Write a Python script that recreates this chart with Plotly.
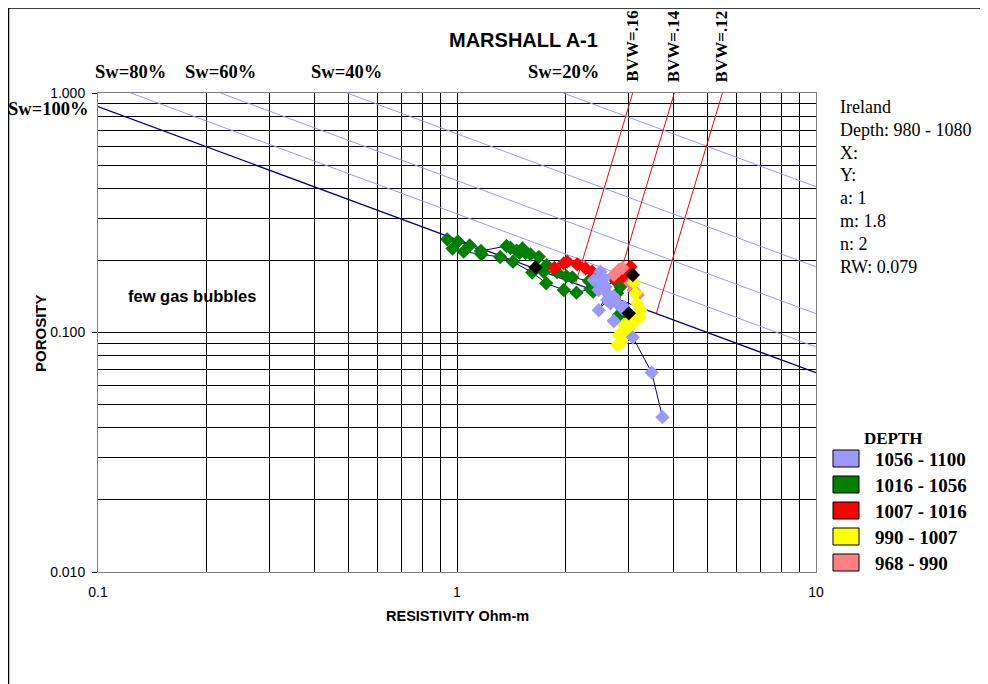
import math
import plotly.graph_objects as go

# Archie parameters shown on the chart
A_COEF = 1
M_EXP = 1.8
N_EXP = 2
RW = 0.079

SW_VALUES = [1.0, 0.8, 0.6, 0.4, 0.2]
SW_LABELS = ["Sw=100%", "Sw=80%", "Sw=60%", "Sw=40%", "Sw=20%"]
BVW_VALUES = [0.16, 0.14, 0.12]
BVW_LABELS = ["BVW=.16", "BVW=.14", "BVW=.12"]

INFO_LINES = ["Ireland", "Depth: 980 - 1080", "X:", "Y:", "a: 1", "m: 1.8", "n: 2", "RW: 0.079"]

LEGEND_NAMES = ["1056 - 1100", "1016 - 1056", "1007 - 1016", "990 - 1007", "968 - 990"]
LEGEND_COLORS = ["#9999FF", "#008000", "#FF0000", "#FFFF00", "#FF8080"]

# resistivity (ohm-m) / porosity, per depth interval
green_rt = [2.354, 2.152, 1.984, 1.772, 1.620, 1.432, 1.319, 1.170, 1.044, 0.972, 0.939,
            1.006, 1.085, 1.166, 1.374, 1.409, 1.465, 1.522, 1.493, 1.552, 1.602, 1.690,
            1.778, 1.745, 1.901, 2.016, 2.094, 2.329, 2.395, 2.431, 2.782, 2.794, 2.854,
            2.823, 2.854]
green_phi = [0.152, 0.1466, 0.1505, 0.1605, 0.178, 0.1975, 0.2066, 0.212, 0.2175, 0.224, 0.245,
             0.240, 0.231, 0.219, 0.2297, 0.2253, 0.2196, 0.2243, 0.2147, 0.2147, 0.212, 0.207,
             0.191, 0.179, 0.1786, 0.172, 0.170, 0.164, 0.148, 0.153, 0.163, 0.1458, 0.1553,
             0.1183, 0.1147]

red_rt = [1.868, 1.984, 2.028, 2.162, 2.280, 2.380, 2.510, 2.734, 2.818, 2.947, 2.915, 3.043, 3.010]
red_phi = [0.186, 0.1945, 0.1975, 0.1927, 0.1854, 0.1794, 0.1684, 0.1684, 0.1722, 0.1689, 0.1824, 0.1882, 0.1767]

pink_rt = [2.734, 2.823, 2.891, 3.043, 3.103, 3.189]
pink_phi = [0.1738, 0.1824, 0.186, 0.1605, 0.1505, 0.1434]

yellow_rt = [3.108, 3.142, 3.176, 3.244, 3.223, 3.142, 3.043, 3.108, 2.970, 2.915, 2.823, 2.885, 2.794]
yellow_phi = [0.1614, 0.1458, 0.1324, 0.124, 0.1161, 0.1164, 0.1128, 0.1092, 0.1024, 0.1075, 0.0976, 0.0915, 0.0887]

blue_rt = [2.405, 2.510, 2.564, 2.458, 2.538, 2.479, 2.593, 2.621, 2.483, 2.621, 2.677, 2.734,
           2.794, 2.885, 2.915, 2.734, 3.089, 3.487, 3.736]
blue_phi = [0.1656, 0.1794, 0.1684, 0.1656, 0.1605, 0.1505, 0.1553, 0.1458, 0.124, 0.1367, 0.1324, 0.1411,
            0.1324, 0.1262, 0.1281, 0.1117, 0.0955, 0.0680, 0.0443]

black_rt = [1.655, 3.089, 3.010]
black_phi = [0.1868, 0.1738, 0.1203]

RT_MIN, RT_MAX = 0.1, 10

# the page has an 8px body margin, positions below are page pixels
OFF = 8
W, H = 988, 684
L, T = 90, 85
PW, PH = 718, 479
R, B = W - L - PW, H - T - PH


def px(x):
    return (x - OFF - L) / PW


def py(y):
    return (T + PH - (y - OFF)) / PH


def rt_of(phi, sw):
    return A_COEF * RW / (phi ** M_EXP * sw ** N_EXP)


def phi_of(rt, sw):
    return (A_COEF * RW / (rt * sw ** N_EXP)) ** (1 / M_EXP)


fig = go.Figure()

# saturation lines
for sw in SW_VALUES:
    if sw == 1.0:
        xs = [RT_MIN, RT_MAX]
        ys = [phi_of(RT_MIN, sw), phi_of(RT_MAX, sw)]
        col, wd = "#000080", 1.3
    else:
        xs = [rt_of(1.0, sw), RT_MAX]
        ys = [1.0, phi_of(RT_MAX, sw)]
        col, wd = "#9999FF", 1
    fig.add_trace(go.Scatter(x=xs, y=ys, mode="lines", line=dict(color=col, width=wd),
                             showlegend=False, hoverinfo="skip"))

# bulk volume water lines
for bvw in BVW_VALUES:
    xs = [rt_of(1.0, bvw), rt_of(bvw, 1.0)]
    ys = [1.0, bvw]
    fig.add_trace(go.Scatter(x=xs, y=ys, mode="lines", line=dict(color="#FF0000", width=1),
                             showlegend=False, hoverinfo="skip"))

# well track connecting line
for xs, ys in [(green_rt, green_phi), (blue_rt, blue_phi)]:
    fig.add_trace(go.Scatter(x=xs, y=ys, mode="lines", line=dict(color="#000080", width=1),
                             showlegend=False, hoverinfo="skip"))

groups = [
    (green_rt, green_phi, "#008000"),
    (red_rt, red_phi, "#FF0000"),
    (pink_rt, pink_phi, "#FF8080"),
    (yellow_rt, yellow_phi, "#FFFF00"),
    (blue_rt, blue_phi, "#9999FF"),
    (black_rt, black_phi, "#000000"),
]
for xs, ys, col in groups:
    fig.add_trace(go.Scatter(x=xs, y=ys, mode="markers",
                             marker=dict(symbol="diamond", size=11, color=col, line=dict(width=0)),
                             showlegend=False))

minor_x = [m * 10 ** e for e in (-1, 0) for m in range(2, 10)]
minor_y = [m * 10 ** e for e in (-2, -1) for m in range(2, 10)]

fig.update_xaxes(type="log", range=[-1, 1], tickvals=[0.1, 1, 10], ticktext=["0.1", "1", "10"],
                 ticks="", ticklabelstandoff=7, showgrid=True, gridcolor="#000000", gridwidth=1,
                 minor=dict(tickmode="array", tickvals=minor_x, showgrid=True, gridcolor="#000000", gridwidth=1, ticks=""),
                 showline=True, linecolor="#808080", linewidth=1, mirror=True,
                 tickfont=dict(family="Liberation Sans", size=14, color="#000000"), zeroline=False)
fig.update_yaxes(type="log", range=[-2, 0], tickvals=[0.01, 0.1, 1], ticktext=["0.010", "0.100", "1.000"],
                 ticks="outside", ticklen=5, tickcolor="#000000", ticklabelstandoff=4,
                 showgrid=True, gridcolor="#000000", gridwidth=1,
                 minor=dict(tickmode="array", tickvals=minor_y, showgrid=True, gridcolor="#000000", gridwidth=1, ticks=""),
                 showline=True, linecolor="#808080", linewidth=1, mirror=True,
                 tickfont=dict(family="Liberation Sans", size=14, color="#000000"), zeroline=False)

ann = []
sans = "Liberation Sans"
serif = "Liberation Serif"


def note(text, x, y, size, family, bold=True, xanchor="center", angle=0, xref="paper", yref="paper"):
    ann.append(dict(text="<b>" + text + "</b>" if bold else text, x=x, y=y, xref=xref, yref=yref,
                    xanchor=xanchor, yanchor="middle", showarrow=False, textangle=angle,
                    font=dict(family=family, size=size, color="#000000")))


note("MARSHALL A-1", px(523), py(40), 20, sans)
note("RESISTIVITY Ohm-m", px(457), py(616), 14.5, sans)
note("POROSITY", px(40), py(333), 15, sans, angle=-90)
note("few gas bubbles", math.log10(0.183), math.log10(0.142), 16.5, sans, xref="x", yref="y")

for sw, lab in zip(SW_VALUES, SW_LABELS):
    if sw == 1.0:
        note(lab, px(90), py(109), 18.5, serif, xanchor="right")
    else:
        note(lab, math.log10(rt_of(1.0, sw)), py(72), 18.5, serif, xref="x")

for bvw, lab in zip(BVW_VALUES, BVW_LABELS):
    note(lab, math.log10(rt_of(1.0, bvw)), py(46), 17, serif, angle=-90, xref="x")

for i, line in enumerate(INFO_LINES):
    note(line, px(838), py(107 + i * 22.8), 18, serif, bold=False, xanchor="left")

note("DEPTH", px(893), py(438), 17, serif)

shapes = []
for i, (name, col) in enumerate(zip(LEGEND_NAMES, LEGEND_COLORS)):
    top = 450 + i * 26
    shapes.append(dict(type="rect", xref="paper", yref="paper", x0=px(833), x1=px(859), y0=py(top + 17), y1=py(top),
                       fillcolor=col, line=dict(color="#000000", width=1)))
    note(name, px(873), py(top + 9.5), 19, serif, xanchor="left")

# outer chart border (partly cropped)
shapes.append(dict(type="line", xref="paper", yref="paper", x0=px(8.5), x1=px(1000), y0=py(8), y1=py(8),
                   line=dict(color="#000000", width=1.5)))
shapes.append(dict(type="line", xref="paper", yref="paper", x0=px(8.5), x1=px(8.5), y0=py(8), y1=py(700),
                   line=dict(color="#000000", width=1.5)))

fig.update_layout(width=W, height=H, margin=dict(l=L, r=R, t=T, b=B),
                  paper_bgcolor="#FFFFFF", plot_bgcolor="#FFFFFF",
                  annotations=ann, shapes=shapes, showlegend=False, hovermode="closest")

fig.write_html("out.html")
